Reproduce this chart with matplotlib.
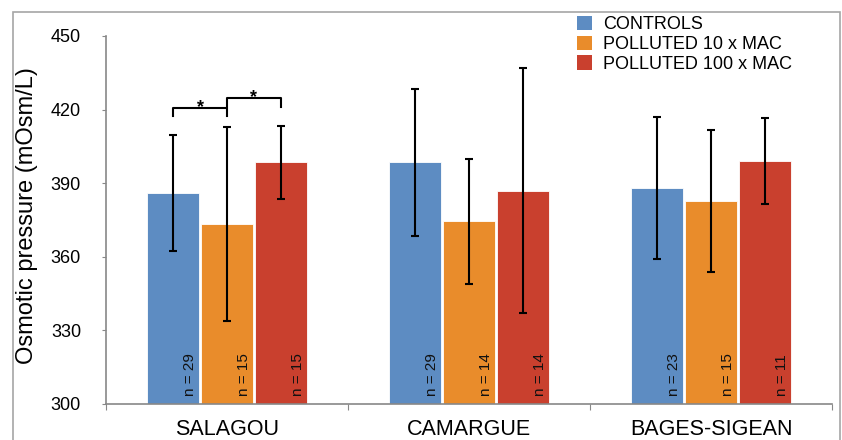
#!/usr/bin/env python3
'Osmotic pressure by site and treatment'

import numpy as np
import matplotlib
matplotlib.use('Agg')
import matplotlib.pyplot as plt
from matplotlib.patches import Patch, Rectangle

plt.rcParams['font.family'] = ['Liberation Sans', 'DejaVu Sans']

# data
sites = ['SALAGOU', 'CAMARGUE', 'BAGES-SIGEAN']
groups = ['CONTROLS', 'POLLUTED 10 x MAC', 'POLLUTED 100 x MAC']
means = {
    'CONTROLS': [386, 398.5, 388],
    'POLLUTED 10 x MAC': [373.5, 374.5, 382.8],
    'POLLUTED 100 x MAC': [398.5, 387, 399],
}
errors = {
    'CONTROLS': [23.5, 30, 29],
    'POLLUTED 10 x MAC': [39.5, 25.5, 28.8],
    'POLLUTED 100 x MAC': [15, 50, 17.5],
}
n_sizes = {
    'CONTROLS': [29, 29, 23],
    'POLLUTED 10 x MAC': [15, 14, 15],
    'POLLUTED 100 x MAC': [15, 14, 11],
}
colors = ['#5d8cc2', '#e98c2b', '#c9402e']

W, H = 842, 440
fig = plt.figure(figsize=(W / 100, H / 100), dpi=100)
ax = fig.add_axes([106 / W, 1 - 404 / H, (832 - 106) / W, (404 - 36) / H])

# outer frame
fig.patches.append(Rectangle((13 / W, -0.05), (840 - 13) / W, 1.05 - 12 / H,
                             transform=fig.transFigure, fill=False,
                             edgecolor='#a6a6a6', linewidth=1.2))

x = np.arange(len(sites))
offsets = [-0.223, 0, 0.223]
width = 0.215

for g, off, c in zip(groups, offsets, colors):
    xs = x + off
    ax.bar(xs, np.array(means[g]) - 300, width, bottom=300, color=c,
           edgecolor='white', linewidth=0.6, zorder=2)
    ax.errorbar(xs, means[g], yerr=errors[g], fmt='none', ecolor='black',
                elinewidth=1.5, capsize=3.2, capthick=1.5, zorder=3)
    for xi, n in zip(xs, n_sizes[g]):
        ax.text(xi + 0.07, 303.2, f'n = {n}', rotation=90, ha='center',
                va='bottom', fontsize=11, color='#111111', zorder=4)

# significance brackets
def bracket(x1, x2, y, h, ax):
    ax.plot([x1, x1, x2, x2], [y - h, y, y, y - h], color='black', lw=1.5, zorder=4)
    ax.text((x1 + x2) / 2, y - 1.8, '*', ha='center', va='baseline',
            fontsize=13, fontweight='bold')

bracket(x[0] + offsets[0], x[0] + offsets[1], 420.7, 3.2, ax)
bracket(x[0] + offsets[1], x[0] + offsets[2], 424.8, 3.8, ax)

ax.set_xlim(-0.5, 2.5)
ax.set_ylim(300, 450)
ax.set_yticks([300, 330, 360, 390, 420, 450])
ax.tick_params(axis='y', labelsize=13, length=3, pad=15, color='#888888')
ax.set_xticks([-0.5, 0.5, 1.5, 2.5])
ax.set_xticklabels([])
ax.set_xticks(x, minor=True)
ax.set_xticklabels(sites, minor=True, fontsize=15.5)
ax.tick_params(axis='x', which='major', length=4, color='#888888')
ax.tick_params(axis='x', which='minor', length=0, pad=11)
for s in ['top', 'right']:
    ax.spines[s].set_visible(False)
for s in ['left', 'bottom']:
    ax.spines[s].set_color('#888888')
    ax.spines[s].set_linewidth(1.2)

fig.text(27 / W, 1 - 216 / H, 'Osmotic pressure (mOsm/L)', rotation=90,
         ha='center', va='center', fontsize=17)

handles = [Patch(facecolor=c, edgecolor='none', label=g) for g, c in zip(groups, colors)]
fig.legend(handles=handles, loc='upper left', bbox_to_anchor=(577 / W, 1 - 16 / H),
           frameon=False, fontsize=13, handlelength=0.85, handleheight=0.85,
           handletextpad=0.6, labelspacing=0.12, borderpad=0, borderaxespad=0)

fig.savefig('out.png', dpi=100)
